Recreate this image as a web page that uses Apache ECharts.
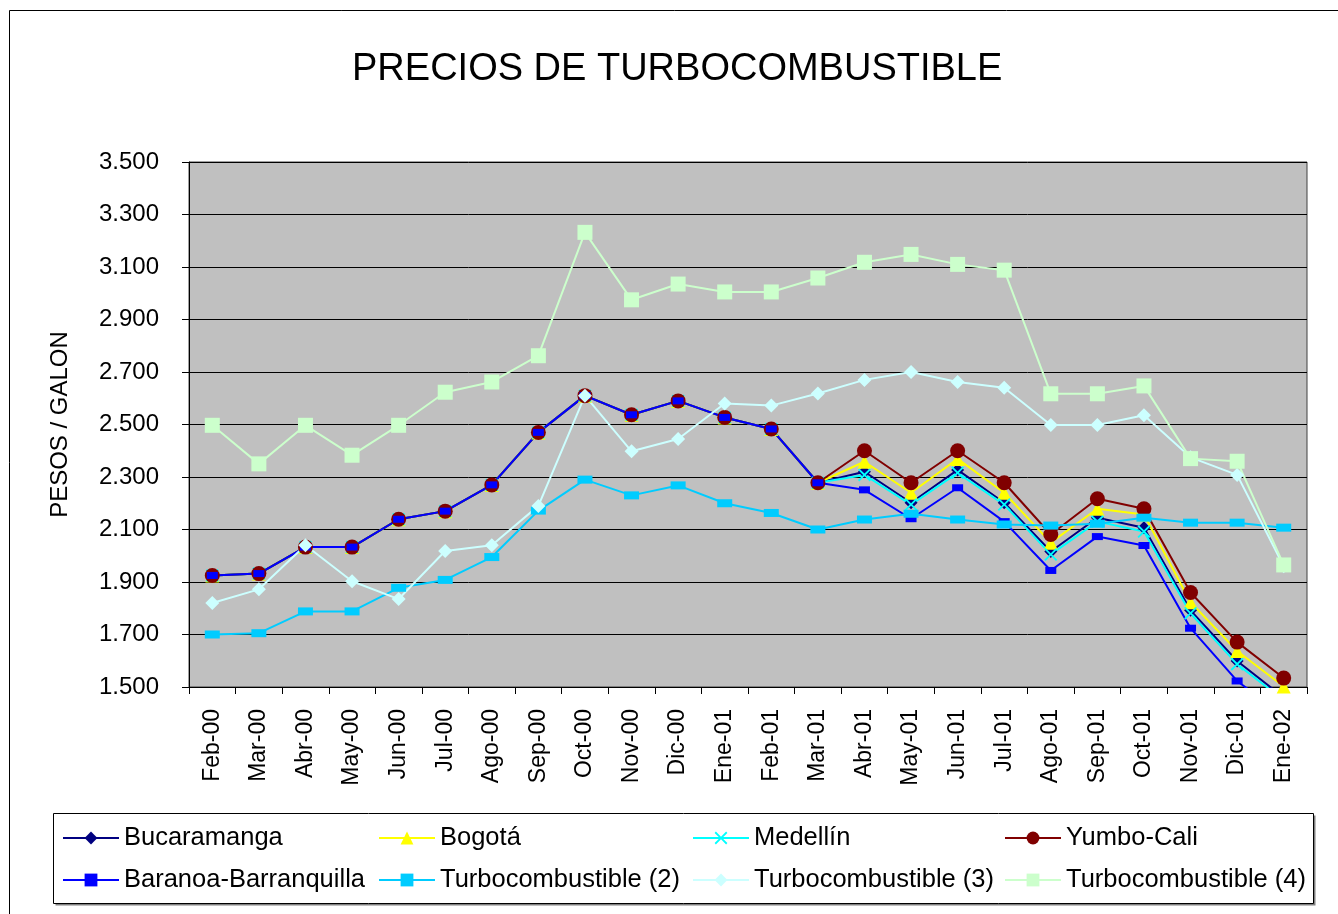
<!DOCTYPE html>
<html>
<head>
<meta charset="utf-8">
<title>Precios de turbocombustible</title>
<script src="https://cdn.jsdelivr.net/npm/echarts@6/dist/echarts.min.js"></script>
<style>
  html, body { margin: 0; padding: 0; background: #fff; }
  #chart { width: 1338px; height: 914px; }
</style>
</head>
<body>
<div id="chart"></div>
<script>
// meses
const categories = ['Feb-00', 'Mar-00', 'Abr-00', 'May-00', 'Jun-00', 'Jul-00', 'Ago-00', 'Sep-00',
  'Oct-00', 'Nov-00', 'Dic-00', 'Ene-01', 'Feb-01', 'Mar-01', 'Abr-01', 'May-01', 'Jun-01',
  'Jul-01', 'Ago-01', 'Sep-01', 'Oct-01', 'Nov-01', 'Dic-01', 'Ene-02'];

// pesos por galon
const bucaramanga = [1925, 1932, 2033, 2033, 2139, 2170, 2270, 2470, 2610, 2537, 2590, 2527, 2483, 2278,
  2320, 2202, 2327, 2202, 2016, 2145, 2107, 1792, 1599, 1460];
const bogota = [1925, 1932, 2033, 2033, 2139, 2170, 2270, 2470, 2610, 2537, 2590, 2527, 2483, 2278,
  2358, 2240, 2369, 2240, 2050, 2179, 2157, 1823, 1637, 1502];
const medellin = [1925, 1932, 2033, 2033, 2139, 2170, 2270, 2470, 2610, 2537, 2590, 2527, 2483, 2278,
  2308, 2195, 2316, 2195, 2005, 2130, 2092, 1781, 1587, 1450];
const yumboCali = [1925, 1932, 2033, 2033, 2139, 2170, 2270, 2470, 2610, 2537, 2590, 2527, 2483, 2278,
  2400, 2278, 2400, 2278, 2081, 2217, 2179, 1860, 1671, 1534];
const barranquilla = [1925, 1932, 2033, 2033, 2139, 2170, 2270, 2470, 2610, 2537, 2590, 2527, 2483, 2278,
  2251, 2141, 2259, 2130, 1944, 2073, 2039, 1724, 1523, 1390];
const turbo2 = [1700, 1705, 1788, 1788, 1878, 1908, 1995, 2172, 2290, 2230, 2268, 2200, 2163, 2100,
  2138, 2160, 2138, 2119, 2115, 2122, 2145, 2126, 2126, 2107];
const turbo3 = [1820, 1872, 2040, 1903, 1835, 2018, 2040, 2190, 2610, 2398, 2445, 2580, 2572, 2618,
  2670, 2700, 2662, 2640, 2498, 2498, 2535, 2375, 2308, 1960];
const turbo4 = [2497, 2350, 2497, 2383, 2497, 2623, 2662, 2762, 3232, 2975, 3035, 3005, 3005, 3058,
  3118, 3148, 3110, 3088, 2617, 2617, 2647, 2370, 2360, 1965];

const yTicks = [1500, 1700, 1900, 2100, 2300, 2500, 2700, 2900, 3100, 3300, 3500];

const font = "'Liberation Sans', Arial, sans-serif";
const xMark = 'path://M0,1L1,0L5,4L9,0L10,1L6,5L10,9L9,10L5,6L1,10L0,9L4,5Z';

function serie(name, data, color, symbol, size) {
  return {
    name: name,
    type: 'line',
    data: data,
    symbol: symbol,
    symbolSize: size,
    showAllSymbol: true,
    clip: true,
    lineStyle: { color: color, width: 2 },
    itemStyle: { color: color },
  };
}

const chart = echarts.init(document.getElementById('chart'));

const legendBase = {
  orient: 'vertical',
  top: 823,
  padding: 0,
  itemWidth: 56,
  itemHeight: 16,
  itemGap: 12,
  textStyle: { fontFamily: font, fontSize: 25.5, color: '#000', lineHeight: 30 },
  selectedMode: false,
};

chart.setOption({
  animation: false,
  backgroundColor: '#fff',
  title: {
    text: 'PRECIOS DE TURBOCOMBUSTIBLE',
    left: 352,
    top: 51,
    padding: 0,
    textStyle: { fontFamily: font, fontSize: 38, fontWeight: 'normal', color: '#000' },
  },
  grid: {
    left: 189,
    top: 162,
    right: 31,
    bottom: 227,
    show: true,
    backgroundColor: '#C0C0C0',
    borderColor: '#404040',
    borderWidth: 1,
  },
  legend: [
    Object.assign({ left: 62, data: ['Bucaramanga', 'Baranoa-Barranquilla'] }, legendBase),
    Object.assign({ left: 378, data: ['Bogotá', 'Turbocombustible (2)'] }, legendBase),
    Object.assign({ left: 692, data: ['Medellín', 'Turbocombustible (3)'] }, legendBase),
    Object.assign({ left: 1004, data: ['Yumbo-Cali', 'Turbocombustible (4)'] }, legendBase),
  ],
  xAxis: {
    type: 'category',
    data: categories,
    boundaryGap: true,
    axisLine: { lineStyle: { color: '#000', width: 1 } },
    axisTick: { show: true, length: 7, lineStyle: { color: '#000' } },
    axisLabel: {
      rotate: 90,
      interval: 0,
      margin: 22,
      fontFamily: font,
      fontSize: 23,
      color: '#000',
    },
  },
  yAxis: {
    type: 'value',
    min: yTicks[0],
    max: yTicks[yTicks.length - 1],
    interval: 200,
    name: 'PESOS / GALON',
    nameLocation: 'middle',
    nameRotate: 90,
    nameGap: 117,
    nameTextStyle: { fontFamily: font, fontSize: 24, color: '#000' },
    axisLine: { show: true, lineStyle: { color: '#000', width: 1 } },
    axisTick: { show: true, length: 7, lineStyle: { color: '#000' } },
    axisLabel: {
      margin: 30,
      fontFamily: font,
      fontSize: 24,
      color: '#000',
      formatter: (v) => (v / 1000).toFixed(3),
    },
    splitLine: { show: true, lineStyle: { color: '#000', width: 1 } },
  },
  graphic: [
    {
      type: 'rect',
      shape: { x: 9.5, y: 10.5, width: 1400, height: 1000 },
      style: { fill: 'none', stroke: '#000', lineWidth: 1 },
      silent: true,
      z: -10,
    },
    {
      type: 'rect',
      shape: { x: 55.5, y: 815.5, width: 1260, height: 90 },
      style: { fill: '#808080', stroke: null },
      silent: true,
      z: -9,
    },
    {
      type: 'rect',
      shape: { x: 53.5, y: 813.5, width: 1260, height: 90 },
      style: { fill: '#fff', stroke: '#000', lineWidth: 1 },
      silent: true,
      z: -8,
    },
  ],
  series: [
    serie('Bucaramanga', bucaramanga, '#000080', 'diamond', 13),
    serie('Bogotá', bogota, '#FFFF00', 'triangle', 14),
    serie('Medellín', medellin, '#00FFFF', xMark, 13),
    serie('Yumbo-Cali', yumboCali, '#800000', 'circle', 15),
    serie('Baranoa-Barranquilla', barranquilla, '#0000FF', 'rect', [11, 7]),
    serie('Turbocombustible (2)', turbo2, '#00CCFF', 'rect', [15, 8]),
    serie('Turbocombustible (3)', turbo3, '#CCFFFF', 'diamond', 14),
    serie('Turbocombustible (4)', turbo4, '#CCFFCC', 'rect', 15),
  ],
});
</script>
</body>
</html>
